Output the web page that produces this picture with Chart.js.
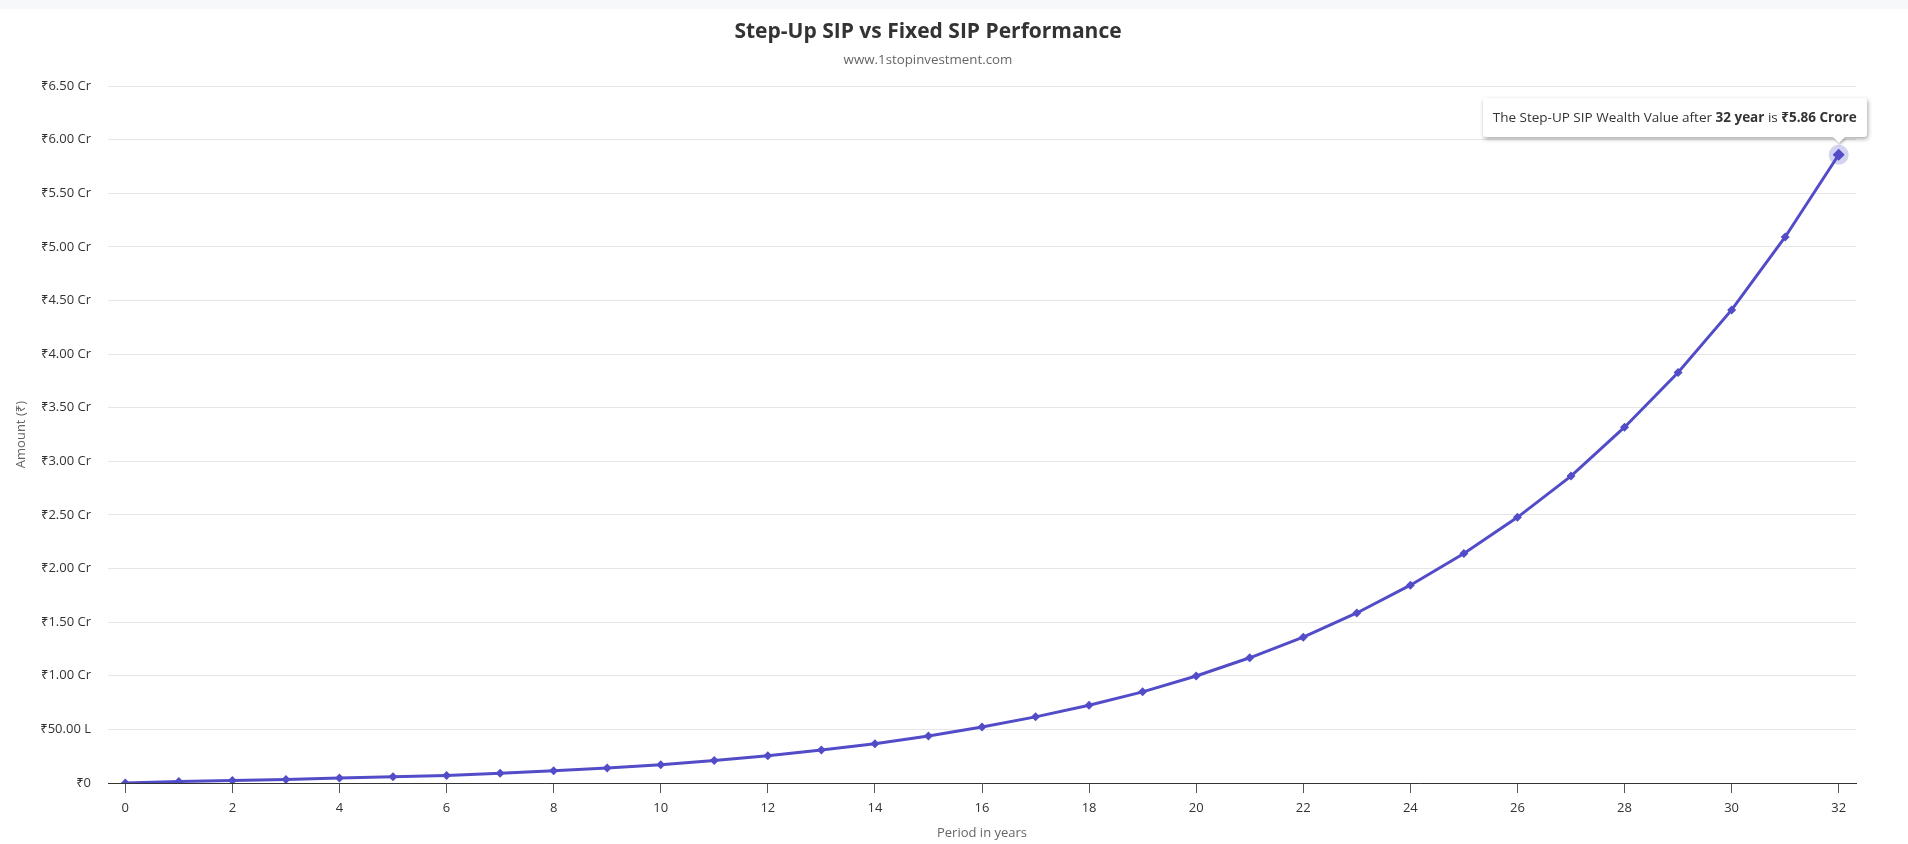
<!DOCTYPE html>
<html>
<head>
<meta charset="utf-8">
<title>Step-Up SIP vs Fixed SIP Performance</title>
<script src="https://cdn.jsdelivr.net/npm/chart.js@4.4.1/dist/chart.umd.min.js"></script>
<style>
	html, body { margin: 0; padding: 0; background: #fff; }
	body { width: 1908px; height: 844px; position: relative; overflow: hidden; font-family: 'Open Sans', 'Noto Sans', sans-serif; }
	.topbar { position: absolute; left: 0; top: 0; width: 1908px; height: 9px; background: #f7f8f9; }
	#sipChart { position: absolute; left: 0; top: 0; }
	#sipTip { position: absolute; left: 0; top: 0; white-space: nowrap; font-size: 13.5px; line-height: 17px; color: #333; background: #fff; border-radius: 3px; padding: 11px 10px; box-shadow: 1px 2px 4px rgba(0, 0, 0, 0.35); }
	#sipTip b { font-weight: bold; }
	#sipTip .arrow { position: absolute; bottom: -6px; width: 0; height: 0; border-left: 6px solid transparent; border-right: 6px solid transparent; border-top: 6px solid #fff; filter: drop-shadow(1px 2px 1px rgba(0, 0, 0, 0.25)); }
</style>
</head>
<body>
<div class="topbar"></div>
<canvas id="sipChart" width="1862" height="844"></canvas>
<div id="sipTip"></div>
<script>
	// years on the x axis
	var years = [0, 1, 2, 3, 4, 5, 6, 7, 8, 9, 10, 11, 12, 13, 14, 15, 16, 17, 18, 19, 20, 21, 22, 23, 24, 25, 26, 27, 28, 29, 30, 31, 32];
	// step-up SIP wealth value (₹)
	var stepUpValues = [0, 140000, 230000, 330000, 460000, 580000, 710000, 900000, 1150000, 1400000, 1710000, 2090000, 2550000, 3070000, 3670000, 4390000, 5220000, 6170000, 7260000, 8500000, 9980000, 11680000, 13600000, 15860000, 18450000, 21400000, 24780000, 28630000, 33190000, 38290000, 44130000, 50930000, 58600000];
	var xTicks = [0, 2, 4, 6, 8, 10, 12, 14, 16, 18, 20, 22, 24, 26, 28, 30, 32];
	var yTicks = [0, 5000000, 10000000, 15000000, 20000000, 25000000, 30000000, 35000000, 40000000, 45000000, 50000000, 55000000, 60000000, 65000000];
	// point that shows the tooltip
	var activeIndex = 32;

	var lineColor = '#524cc8';
	Chart.defaults.font.family = "'Open Sans', 'Noto Sans', sans-serif";

	function fmtAmount(v) {
		if (v === 0) return '₹0';
		if (v < 10000000) return '₹' + (v / 100000).toFixed(2) + ' L';
		return '₹' + (v / 10000000).toFixed(2) + ' Cr';
	}

	// html tooltip, so the bold parts stay bold
	function drawTip(context) {
		var tip = context.tooltip;
		var el = document.getElementById('sipTip');
		if (!tip.dataPoints || !tip.dataPoints.length) {
			el.style.display = 'none';
			return;
		}
		var p = tip.dataPoints[0];
		el.style.display = 'block';
		el.innerHTML = 'The Step-UP SIP Wealth Value after <b>' + p.parsed.x + ' year</b> is <b>₹' +
			(p.parsed.y / 10000000).toFixed(2) + ' Crore</b><span class="arrow"></span>';
		var left = tip.caretX + 28 - el.offsetWidth;
		var top = tip.caretY - 18 - el.offsetHeight;
		el.style.left = left + 'px';
		el.style.top = top + 'px';
		el.querySelector('.arrow').style.left = (tip.caretX - left - 6) + 'px';
	}

	// soft circle behind the hovered point
	var haloPlugin = {
		id: 'halo',
		beforeDatasetsDraw: function(chart) {
			var pt = chart.getDatasetMeta(0).data[activeIndex];
			if (!pt) return;
			var ctx = chart.ctx;
			ctx.save();
			ctx.beginPath();
			ctx.arc(pt.x, pt.y, 10, 0, Math.PI * 2);
			ctx.fillStyle = 'rgba(82, 76, 200, 0.25)';
			ctx.fill();
			ctx.restore();
		}
	};

	var points = years.map(function(y, i) {
		return { x: y, y: stepUpValues[i] };
	});

	var sipChart = new Chart(document.getElementById('sipChart'), {
		type: 'line',
		data: {
			datasets: [{
				label: 'Step-UP SIP',
				data: points,
				borderColor: lineColor,
				backgroundColor: lineColor,
				borderWidth: 3,
				tension: 0,
				fill: false,
				pointStyle: 'rectRot',
				pointRadius: 4.5,
				pointBorderWidth: 0,
				pointBackgroundColor: lineColor,
				pointHoverRadius: 6,
				pointHoverBorderWidth: 0,
				pointHoverBackgroundColor: lineColor
			}]
		},
		options: {
			responsive: false,
			animation: false,
			events: [],
			layout: {
				padding: { left: 0, right: 6, top: 0, bottom: 0 }
			},
			plugins: {
				legend: { display: false },
				title: {
					display: true,
					text: 'Step-Up SIP vs Fixed SIP Performance',
					color: '#333',
					font: { size: 21, weight: 'bold' },
					padding: { top: 19, bottom: 0 }
				},
				subtitle: {
					display: true,
					text: 'www.1stopinvestment.com',
					color: '#666',
					font: { size: 13.3 },
					padding: { top: 8, bottom: 18 }
				},
				tooltip: {
					enabled: false,
					external: drawTip
				}
			},
			scales: {
				x: {
					type: 'linear',
					min: -0.323,
					max: 32.323,
					afterBuildTicks: function(scale) {
						scale.ticks = xTicks.map(function(v) { return { value: v }; });
					},
					afterFit: function(scale) {
						scale.height = 61;
					},
					border: { color: '#333', width: 1 },
					grid: { drawOnChartArea: false, drawTicks: true, tickLength: 10, color: '#555' },
					ticks: { color: '#333', font: { size: 13 }, padding: 7, maxRotation: 0, autoSkip: false },
					title: {
						display: true,
						text: 'Period in years',
						color: '#666',
						font: { size: 13 },
						padding: { top: 0, bottom: 3 }
					}
				},
				y: {
					min: 0,
					max: 65000000,
					afterBuildTicks: function(scale) {
						scale.ticks = yTicks.map(function(v) { return { value: v }; });
					},
					afterFit: function(scale) {
						scale.width = 108;
					},
					border: { display: false },
					grid: { color: '#e6e6e6', drawTicks: false },
					ticks: { color: '#333', font: { size: 13 }, padding: 17, callback: fmtAmount },
					title: {
						display: true,
						text: 'Amount (₹)',
						color: '#666',
						font: { size: 13 },
						padding: { top: 13, bottom: 0 }
					}
				}
			}
		},
		plugins: [haloPlugin]
	});

	sipChart.setActiveElements([{ datasetIndex: 0, index: activeIndex }]);
	sipChart.tooltip.setActiveElements([{ datasetIndex: 0, index: activeIndex }], { x: 0, y: 0 });
	sipChart.update();
</script>
</body>
</html>
